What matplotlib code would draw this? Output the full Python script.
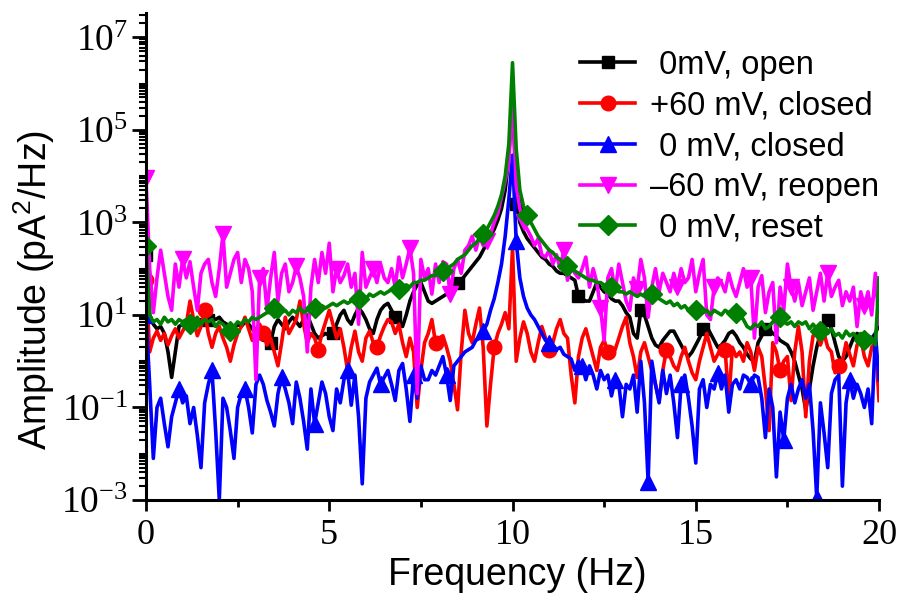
import numpy as np
import matplotlib
matplotlib.use('Agg')
import matplotlib.pyplot as plt
from matplotlib.ticker import FixedLocator, FuncFormatter, MultipleLocator, LogLocator, NullFormatter

# Frequency grid (Hz) and log10 amplitudes (pA^2/Hz)
freq = np.round(np.arange(0, 20.05, 0.1), 1)

open_0mv = [
    2.3, 1.0, 0.8, 0.7, 0.75, 0.6, 0.2, -0.35, 0.2, 0.75,
    0.8, 0.75, 0.85, 0.8, 0.85, 0.9, 0.8, 0.9, 0.95, 0.9,
    0.95, 0.85, 0.8, 0.75, 0.7, 0.8, 0.75, 0.85, 0.8, 0.7,
    0.6, 0.5, 0.45, 0.45, 0.4, 0.75, 0.9, 0.8, 0.7, 0.85,
    0.95, 0.85, 0.75, 0.9, 1.0, 0.8, 0.6, 0.5, 0.55, 0.6,
    0.55, 0.6, 0.8, 1.0, 1.1, 0.9, 0.8, 1.0, 1.15, 1.05,
    0.9, 0.7, 0.6, 0.9, 1.1, 1.2, 1.25, 1.1, 0.95, 0.8,
    0.75, 1.0, 1.3, 1.5, 1.65, 1.7, 1.5, 1.3, 1.25, 1.3,
    1.35, 1.4, 1.45, 1.45, 1.65, 1.7, 1.75, 1.85, 1.95, 2.05,
    2.15, 2.25, 2.4, 2.55, 2.7, 2.85, 3.05, 3.3, 3.7, 4.4,
    6.0, 3.4, 3.0, 2.8, 2.65, 2.55, 2.45, 2.35, 2.25, 2.2,
    2.1, 2.05, 1.95, 1.9, 1.9, 1.85, 1.8, 1.75, 1.4, 1.35,
    1.3, 1.3, 1.5, 1.7, 1.6, 1.5, 1.45, 1.35, 1.3, 1.3,
    1.2, 1.05, 0.95, 0.6, 0.5, 1.1, 1.0, 0.75, 0.5, 0.35,
    0.3, 0.45, 0.55, 0.65, 0.65, 0.5, 0.35, 0.2, 0.1, 0.2,
    0.35, 0.5, 0.7, 0.75, 0.6, 0.45, 0.3, 0.35, 0.45, 0.6,
    0.65, 0.55, 0.4, 0.3, 0.15, 0.05, 0.0, 0.4, 0.55, 0.7,
    0.7, 0.6, 0.55, 0.45, 0.4, 0.35, 0.2, 0.0, -0.3, -0.6,
    -1.05, -0.6, -0.1, 0.3, 0.6, 0.8, 0.9, 0.7, 0.4, 0.1,
    0.0, 0.1, 0.3, 0.5, 0.6, 0.55, 0.5, 0.45, 0.5, 0.6,
    0.8]

closed_p60 = [
    1.75, 0.2, 0.5, 0.65, 0.45, 0.6, 0.35, 0.55, 0.7, 0.5,
    0.65, 0.8, 1.3, 0.9, 0.55, 0.75, 1.1, 0.6, 0.3, 0.6,
    0.75, 0.5, 0.3, 0.0, 0.35, 0.6, 0.75, 0.95, 0.7, 0.45,
    0.7, 0.8, 0.6, 0.35, 0.5, 0.2, -0.1, 0.4, 0.95, 0.6,
    0.75, 0.9, 1.3, 0.8, 0.4, 0.6, 0.5, 0.25, 0.6, 0.85,
    1.1, 0.8, 0.5, 0.7, 0.3, -0.2, 0.3, 0.65, 0.2, 0.0,
    0.5, 0.65, 0.4, 0.3, 0.55, 0.75, 0.9, 0.85, 0.6, 0.8,
    0.4, 0.1, 0.5, 0.2, -1.0, -0.2, 0.4, 0.6, 0.9, 0.4,
    0.5, 0.55, 0.3, 0.0, -0.5, -1.05, 0.2, 1.1, 0.6, 0.4,
    0.8, 1.15, 0.3, -1.4, -0.5, 0.3, 0.6, 0.8, 1.05, 0.7,
    2.45, 0.0, 0.5, 0.85, 0.6, 0.2, 0.0, 0.4, 0.75, 0.5,
    0.25, 0.4, 0.7, 0.9, 0.6, 0.5, -0.3, -0.9, 0.1, 0.5,
    0.7, 0.4, 0.1, -0.2, 0.3, 0.45, 0.2, 0.3, 0.25, 0.5,
    0.75, 0.95, 0.4, 0.1, -0.35, 0.2, 0.4, 0.1, -0.2, -0.5,
    -0.85, -0.2, 0.25, 0.1, -0.1, -0.2, 0.1, 0.3, 0.0, -0.25,
    -0.4, 0.0, 0.3, 0.6, 0.3, 0.0, 0.15, 0.3, 0.25, -0.85,
    0.3, 0.1, 0.2, 0.0, 0.4, 0.2, -0.2, 0.3, 0.1, -0.6,
    -1.5, 0.4, 0.2, -0.2, 0.0, 0.1, -0.85, 0.2, 0.75, 0.2,
    -1.2, 0.0, 0.55, 0.6, 0.35, 0.6, 0.3, 0.2, -0.25, -0.1,
    0.0, 0.4, 0.15, -0.1, 0.35, 0.5, 0.1, -0.1, 0.3, 0.4,
    -0.85]

closed_0mv = [
    1.0, -0.5, -2.1, -1.0, -0.8, -1.35, -1.85, -1.2, -0.9, -0.6,
    -0.9, -0.75, -1.35, -1.0, -1.6, -2.3, -0.9, -0.5, -0.2, -1.5,
    -3.0, -0.8, -1.0, -1.5, -2.1, -1.0, -0.7, -0.6, -1.0, -1.55,
    -0.5, -0.3, -0.5, -0.85, -1.1, -1.4, -0.7, -0.35, -0.6, -0.9,
    -1.35, -0.45, -0.8, -1.3, -1.9, -0.6, -1.35, -0.9, -0.45, -0.7,
    -1.2, -1.5, -0.6, -0.9, -0.4, -0.2, -0.95, -0.3, -1.2, -2.65,
    -0.8, -0.45, -0.3, -0.15, -0.5, -0.35, -0.2, -0.5, -0.85, -0.2,
    -0.05, -0.6, -1.3, -0.3, -0.8, -0.1, -0.4, -0.4, -0.2, -0.3,
    -0.1, 0.1, -0.3, -0.85, -0.1, 0.0, 0.1, 0.2, 0.25, 0.3,
    0.45, 0.5, 0.65, 0.8, 1.1, 1.35, 1.7, 2.1, 2.7, 3.5,
    4.45, 2.6, 1.8, 1.4, 1.15, 1.0, 0.9, 0.75, 0.6, 0.45,
    0.4, 0.35, 0.25, 0.3, 0.15, 0.1, 0.05, -0.2, 0.0, -0.1,
    -0.4, -0.1, -0.3, -0.6, -0.2, -0.4, -0.3, -0.75, -0.4, -0.5,
    -1.2, -0.5, -0.6, -0.3, -1.1, 0.0, -0.9, -2.6, 0.0, -0.5,
    -0.9, -0.2, -0.7, -0.3, -0.9, -1.65, -0.5, -0.3, -0.8, -1.4,
    -2.2, -0.6, -0.4, -1.0, -0.5, -0.6, -0.25, -0.6, -0.3, -1.1,
    -0.5, -0.4, -0.6, -0.3, -0.35, -0.5, -0.3, -0.35, -0.8, -1.65,
    -0.6, -1.0, -2.5, -1.1, -1.7, -0.8, -0.5, -0.9, -0.6, -0.4,
    -0.8, -0.5, -1.5, -2.95, -0.9, -1.55, -2.3, -0.7, -0.4, -0.3,
    -2.7, -0.9, -0.4, -0.8, -0.5, -0.7, -1.0, -0.6, -1.35, 0.6,
    -0.4]

reopen_m60 = [
    3.95, 2.0, 1.05, 1.8, 2.4, 1.9, 1.4, 1.1, 2.1, 1.6,
    2.2, 1.8, 2.15, 1.6, 1.1, 1.9, 2.1, 2.2, 1.7, 1.4,
    2.0, 2.75, 1.6, 1.9, 2.2, 2.35, 1.7, 2.2, 2.0, 1.5,
    -0.4, 1.8, 2.0, 1.1, 1.8, 2.35, 1.3, 1.9, 2.1, 1.5,
    1.7, 2.05, 1.8, 1.4, 0.2, 1.6, 2.2, 1.7, 2.35, 1.9,
    2.55, 1.5, 2.0, 1.7, 1.85, 2.1, 1.6, 1.9, 0.8, 2.35,
    1.6, 1.8, 2.0, 1.7, 2.1, 1.8, 1.7, 2.0, 1.6, 2.25,
    1.8, 2.1, 2.45, 1.9, -0.7, 2.2, 1.8, 2.0, 1.45, 2.1,
    1.7, 2.15, 2.1, 1.45, 2.0, 2.2, 1.9, 2.4, 2.5, 2.7,
    2.4, 2.7, 2.5, 2.6, 2.75, 3.0, 3.2, 3.55, 3.9, 4.3,
    5.8, 3.8, 3.3, 3.0, 2.85, 2.7, 2.5, 2.65, 2.3, 2.25,
    2.4, 2.1, 2.3, 2.0, 2.4, 1.75, 2.1, 1.9, 1.8, 2.0,
    2.25, 1.6, 2.0, 1.7, 1.15, 0.45, 1.8, 2.0, 1.5, 2.1,
    1.7, 1.3, 1.1, 1.8, 1.55, 2.2, 1.8, 0.95, 1.6, 2.0,
    1.5, 1.9, 1.7, 1.5, 1.9, 1.6, 2.0, 1.7, 1.8, 2.2,
    1.5, 1.9, 2.2, 1.0, 0.9, 1.6, 1.8, 1.7, 1.5, 1.9,
    1.6, 1.4, 1.7, 2.0, 1.6, 1.8, 0.5, 1.6, 1.85, 1.05,
    1.5, 1.7, 0.4, 1.6, 1.1, 2.1, 1.6, 1.3, 1.7, 1.2,
    1.5, 1.8, 1.1, 1.5, 1.9, 1.3, 1.9, 1.4, 1.6, 1.75,
    1.2, 1.5, 1.3, 1.6, 0.75, 1.5, 1.2, 1.5, 1.0, 1.9,
    0.8]

reset_0mv = [
    2.5, 1.0, 0.85, 0.9, 0.8, 0.95, 0.85, 0.9, 0.8, 0.9,
    0.85, 0.9, 0.8, 0.85, 0.95, 0.8, 0.9, 0.85, 0.9, 0.75,
    0.85, 0.8, 0.7, 0.65, 0.75, 0.85, 0.8, 0.9, 0.85, 0.95,
    0.9, 0.95, 1.0, 1.05, 1.05, 1.15, 0.95, 1.05, 1.1, 1.0,
    1.1, 1.05, 1.15, 1.05, 1.1, 1.1, 1.15, 1.1, 1.2, 1.15,
    1.2, 1.25, 1.2, 1.25, 1.3, 1.25, 1.3, 1.3, 1.35, 1.4,
    1.35, 1.45, 1.4, 1.45, 1.5, 1.45, 1.5, 1.55, 1.5, 1.55,
    1.6, 1.65, 1.6, 1.7, 1.7, 1.75, 1.75, 1.8, 1.85, 1.85,
    1.9, 1.95, 2.0, 2.05, 2.1, 2.2, 2.25, 2.3, 2.4, 2.5,
    2.55, 2.65, 2.75, 2.85, 3.0, 3.15, 3.35, 3.6, 4.0, 4.7,
    6.45, 4.6, 3.7, 3.35, 3.15, 3.0, 2.85, 2.7, 2.6, 2.5,
    2.4, 2.35, 2.25, 2.2, 2.1, 2.05, 2.0, 1.95, 1.9, 1.85,
    1.8, 1.75, 1.75, 1.7, 1.7, 1.65, 1.6, 1.6, 1.55, 1.5,
    1.5, 1.45, 1.5, 1.45, 1.4, 1.45, 1.4, 1.35, 1.45, 1.45,
    1.35, 1.3, 1.25, 1.3, 1.2, 1.25, 1.15, 1.2, 1.1, 1.15,
    1.1, 1.15, 1.05, 1.1, 1.0, 1.1, 1.05, 1.0, 1.1, 1.05,
    1.0, 1.05, 1.0, 0.9, 0.75, 0.7, 0.8, 0.75, 0.85, 0.7,
    0.75, 0.85, 0.9, 0.95, 0.85, 0.8, 0.85, 0.75, 0.85, 0.8,
    0.85, 0.7, 0.8, 0.7, 0.65, 0.7, 0.6, 0.7, 0.55, 0.6,
    0.5, 0.65, 0.55, 0.6, 0.5, 0.6, 0.45, 0.55, 0.5, 0.35,
    1.8]

labels = [' 0mV, open', '+60 mV, closed', ' 0 mV, closed', '\u201360 mV, reopen', ' 0 mV, reset']
colors = ['#000000', '#ff0000', '#0000ff', '#ff00ff', '#008000']
markers = ['s', 'o', '^', 'v', 'D']
msizes = [8, 10.5, 12, 12, 10]
# spacing (in points) between symbols on each curve
mark_step = [16.9, 15.75, 9.15, 10.34, 11.5]

plt.rcParams['font.family'] = 'Liberation Serif'
plt.rcParams['mathtext.fontset'] = 'custom'
plt.rcParams['mathtext.rm'] = 'Liberation Serif'
plt.rcParams['mathtext.sf'] = 'Liberation Sans'

fig = plt.figure(figsize=(8.99, 6.01), dpi=100)
ax = fig.add_axes([0.1624, 0.168, 0.8154, 0.810])

all_data = [open_0mv, closed_p60, closed_0mv, reopen_m60, reset_0mv]
for vals, lab, col, mk, ms, step in zip(all_data, labels, colors, markers, msizes, mark_step):
    every = sorted(set(int(i * step + 0.5) for i in range(int(200 / step) + 1)))
    ax.plot(freq, 10 ** np.array(vals), color=col, lw=2.6, marker=mk, ms=ms,
            mec=col, mfc=col, markevery=every, label=lab)

ax.set_yscale('log')
ax.set_xlim(0, 20)
ax.set_ylim(1e-3, 10 ** 7.52)

ax.xaxis.set_major_locator(MultipleLocator(5))
ax.xaxis.set_minor_locator(MultipleLocator(2.5))
ax.yaxis.set_major_locator(FixedLocator([1e-3, 1e-1, 1e1, 1e3, 1e5, 1e7]))
ax.yaxis.set_minor_locator(LogLocator(base=10, subs=np.arange(1, 10), numticks=30))
ax.yaxis.set_minor_formatter(NullFormatter())
ax.yaxis.set_major_formatter(FuncFormatter(
    lambda v, p: r'$\mathdefault{10^{%d}}$' % int(round(np.log10(v)))))

for side in ['top', 'right']:
    ax.spines[side].set_visible(False)
for side in ['left', 'bottom']:
    ax.spines[side].set_linewidth(2.2)

ax.tick_params(axis='x', which='major', direction='out', length=8, width=2, labelsize=26, pad=6)
ax.tick_params(axis='x', which='minor', direction='out', length=5, width=2)
ax.tick_params(axis='y', which='major', direction='out', length=10, width=2, labelsize=27, pad=3)
ax.tick_params(axis='y', which='minor', direction='out', length=5, width=1.5)

ax.set_xlabel('Frequency (Hz)', fontsize=27, family='Liberation Sans')
ax.set_ylabel(r'Amplitude (pA$^{\mathsf{2}}$/Hz)', fontsize=27, family='Liberation Sans')
ax.xaxis.set_label_coords(0.506, -0.118)
ax.yaxis.set_label_coords(-0.122, 0.431)

ax.legend(loc='upper left', bbox_to_anchor=(0.592, 0.925), frameon=False,
          prop={'family': 'Liberation Sans', 'size': 23.5}, handlelength=1.7,
          handletextpad=0.45, labelspacing=0.3, borderpad=0, borderaxespad=0,
          numpoints=1)

fig.savefig('out.png', dpi=100)
